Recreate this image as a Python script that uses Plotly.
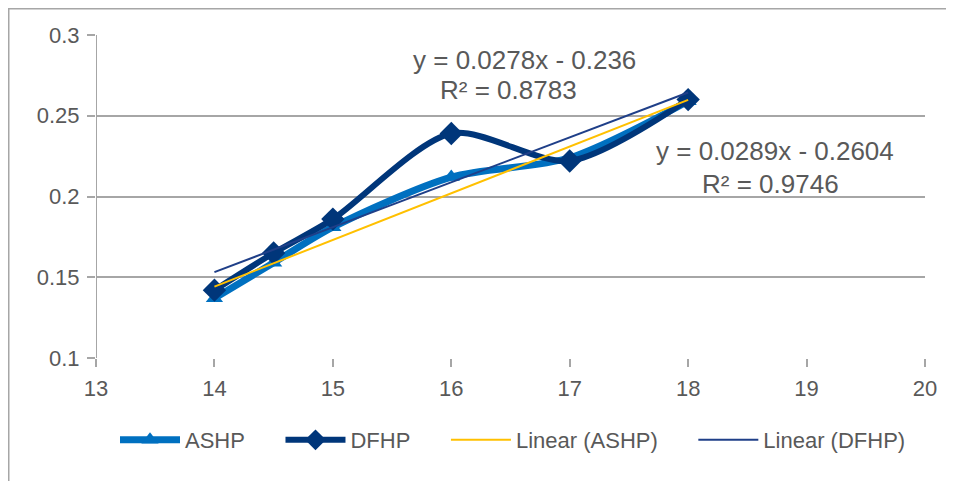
import numpy as np
import plotly.graph_objects as go

x_vals = [14, 14.5, 15, 16, 17, 18]
ashp = [0.137, 0.159, 0.181, 0.212, 0.224, 0.259]
dfhp = [0.142, 0.165, 0.186, 0.239, 0.222, 0.260]

ashp_slope, ashp_icpt, ashp_r2 = 0.0289, -0.2604, 0.9746
dfhp_slope, dfhp_icpt, dfhp_r2 = 0.0278, -0.236, 0.8783

x_ticks = [13, 14, 15, 16, 17, 18, 19, 20]
y_ticks = [0.1, 0.15, 0.2, 0.25, 0.3]
y_tick_text = ["0.1", "0.15", "0.2", "0.25", "0.3"]

FONT = "Liberation Sans, Arial, sans-serif"
TXT = "#595959"
GRID = "#A6A6A6"
PAD = "\u00a0" * 5

# screen layout (page body has an 8px margin)
OFF = 8
L, R, T, B = 96, 925, 35, 358
PW, PH = R - L, B - T


def px(xs):
    return (xs - L) / PW


def py(ys):
    return 1 - (ys - T) / PH


xs = np.array(x_vals, dtype=float)
trend_x = [xs.min(), xs.max()]

fig = go.Figure()
fig.add_trace(go.Scatter(
    x=x_vals, y=ashp, name="ASHP" + PAD, mode="lines+markers",
    line=dict(color="#0070C0", width=7, shape="spline", smoothing=0.8),
    marker=dict(symbol="triangle-up", size=15, color="#0070C0"),
))
fig.add_trace(go.Scatter(
    x=x_vals, y=dfhp, name="DFHP" + PAD, mode="lines+markers",
    line=dict(color="#00367A", width=6, shape="spline", smoothing=0.8),
    marker=dict(symbol="diamond", size=18, color="#00367A"),
))
fig.add_trace(go.Scatter(
    x=trend_x, y=[ashp_slope * v + ashp_icpt for v in trend_x],
    name="Linear (ASHP)" + PAD, mode="lines",
    line=dict(color="#FFC000", width=2),
))
fig.add_trace(go.Scatter(
    x=trend_x, y=[dfhp_slope * v + dfhp_icpt for v in trend_x],
    name="Linear (DFHP)", mode="lines",
    line=dict(color="#1F3F88", width=2),
))

ann_font = dict(family=FONT, size=26, color=TXT)
labels = [
    (524, 60, f"y = {dfhp_slope}x - {abs(dfhp_icpt)}"),
    (508, 90, f"R² = {dfhp_r2}"),
    (775, 151, f"y = {ashp_slope}x - {abs(ashp_icpt)}"),
    (770, 184, f"R² = {ashp_r2}"),
]
for lx, ly, txt in labels:
    fig.add_annotation(xref="paper", yref="paper", x=px(lx), y=py(ly), text=txt,
                       showarrow=False, font=ann_font, xanchor="center", yanchor="middle")

# chart area border
fig.add_shape(type="rect", xref="paper", yref="paper",
              x0=px(OFF + 0.5), x1=1.2, y0=-0.6, y1=py(OFF + 0.5),
              line=dict(color="#A6A6A6", width=2), layer="below")

fig.update_layout(
    width=954 - OFF, height=481 - OFF,
    margin=dict(l=L - OFF, r=954 - OFF - (R - OFF), t=T - OFF, b=481 - OFF - (B - OFF)),
    paper_bgcolor="white", plot_bgcolor="white",
    font=dict(family=FONT, size=22, color=TXT),
    showlegend=True,
    legend=dict(orientation="h", x=px(513), xanchor="center", y=py(440), yanchor="middle",
                font=dict(family=FONT, size=22, color=TXT), itemwidth=60,
                tracegroupgap=0, bgcolor="rgba(0,0,0,0)"),
)
fig.update_xaxes(range=[13, 20], tickvals=x_ticks, showgrid=False, zeroline=False,
                 showline=False, ticks="outside", ticklen=8, tickcolor=GRID, tickwidth=2,
                 ticklabelstandoff=3,
                 tickfont=dict(family=FONT, size=22, color=TXT))
fig.update_yaxes(range=[0.1, 0.3], tickvals=y_ticks, ticktext=y_tick_text,
                 showgrid=True, gridcolor=GRID, gridwidth=2, zeroline=False,
                 showline=False, ticks="outside", ticklen=8, tickcolor=GRID, tickwidth=2,
                 ticklabelstandoff=3,
                 tickfont=dict(family=FONT, size=22, color=TXT))
fig.add_shape(type="line", xref="x", yref="paper", x0=13, x1=13, y0=0, y1=1,
              line=dict(color=GRID, width=2), layer="below")

fig.write_html("out.html")
